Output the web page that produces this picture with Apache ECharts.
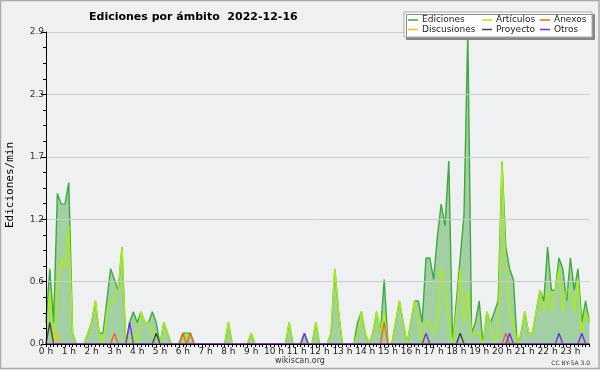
<!DOCTYPE html>
<html>
<head>
<meta charset="utf-8">
<script src="https://cdn.jsdelivr.net/npm/echarts@6/dist/echarts.min.js"></script>
<style>
html,body{margin:0;padding:0;background:#f0f0f0;}
#c{width:600px;height:370px;}
</style>
</head>
<body>
<div id="c"></div>
<script>
// 10-minute slots, 144 per day (index 0 = 0:00)
var hourLabels = ['0 h','1 h','2 h','3 h','4 h','5 h','6 h','7 h','8 h','9 h','10 h','11 h','12 h','13 h','14 h','15 h','16 h','17 h','18 h','19 h','20 h','21 h','22 h','23 h'];
var yTicks = [0, 0.58, 1.16, 1.74, 2.32, 2.9];

var ediciones = [
0.2,0.7,0.2,1.4,1.3,1.3,1.5,0.1,0,0,0,0.1,0.2,0.4,0.1,0.1,0.4,0.7,0.6,0.5,0.9,0,0.2,0.3,
0.2,0.3,0.2,0.2,0.3,0.2,0,0.2,0.1,0,0,0,0.1,0.1,0.1,0,0,0,0,0,0,0,0,0,
0.2,0,0,0,0,0,0.1,0,0,0,0,0,0,0,0,0,0.2,0,0,0,0.1,0,0,0.2,
0,0,0,0.1,0.7,0.3,0,0,0,0,0.2,0.3,0.1,0,0.1,0.3,0.1,0.6,0,0,0.2,0.4,0.2,0,
0.2,0.4,0.4,0.2,0.8,0.8,0.6,1.0,1.3,1.1,1.7,0,0.4,0.8,1.2,2.9,0.1,0.2,0.4,0,
0.3,0.2,0.3,0.4,1.7,0.9,0.7,0.6,0,0.1,0.3,0.1,0.1,0.3,0.5,0.4,0.9,0.5,0.5,0.8,
0.7,0.4,0.8,0.5,0.7,0.2,0.4,0.2
];
var articulos = [
0,0.5,0,0.5,0.8,0.7,1.1,0.1,0,0,0,0.1,0.2,0.4,0.1,0,0.3,0.4,0.4,0.5,0.9,0,0,0.1,
0,0.3,0.2,0.2,0.1,0.1,0,0.2,0.1,0,0,0,0,0.1,0,0,0,0,0,0,0,0,0,0,
0.2,0,0,0,0,0,0.1,0,0,0,0,0,0,0,0,0,0.2,0,0,0,0,0,0,0.2,
0,0,0,0.1,0.7,0.3,0,0,0,0,0.1,0.3,0.1,0,0.1,0.3,0.1,0.3,0,0,0.2,0.4,0.2,0,
0.2,0.4,0.2,0,0.2,0.2,0.1,0.2,0.7,0.5,0.2,0,0.3,0.7,0.2,0.5,0.1,0.1,0.1,0,
0.3,0.2,0,0.1,1.7,0.7,0.3,0.2,0,0.1,0.3,0.1,0.1,0.3,0.5,0.3,0.5,0.3,0.5,0.7,
0.3,0.5,0.5,0.3,0.6,0.1,0.3,0.2
];
var anexos = new Array(144).fill(0);
anexos[18]=0.1; anexos[36]=0.1; anexos[38]=0.1; anexos[89]=0.2; anexos[121]=0.1;
var discusiones = new Array(144).fill(0);
discusiones[3]=0.1;
var proyecto = new Array(144).fill(0);
proyecto[1]=0.2; proyecto[29]=0.1; proyecto[109]=0.1;
var otros = new Array(144).fill(0);
otros[22]=0.2; otros[68]=0.1; otros[100]=0.1; otros[122]=0.1; otros[135]=0.1; otros[141]=0.1;

var names = ['Ediciones','Artículos','Anexos','Discusiones','Proyecto','Otros'];
var colors = ['#3daa3d','#aaee11','#ee6622','#f2c320','#444444','#7a30e0'];
var values = [ediciones, articulos, anexos, discusiones, proyecto, otros];

function pairs(arr){ return arr.map(function(v,i){ return [i,v]; }); }

var series = names.map(function(n,k){
  var s = {
    name: n, type: 'line', data: pairs(values[k]),
    showSymbol: false, symbol: 'none', silent: true,
    color: colors[k],
    lineStyle: {color: colors[k], width: 1.4},
    z: 2 + k,
    animation: false
  };
  if (k === 0) s.areaStyle = {color: '#a3d0a3', opacity: 1};
  return s;
});
var legendPos = [
  {left:408, top:15}, {left:482, top:15}, {left:540, top:15},
  {left:408, top:24.5}, {left:482, top:24.5}, {left:540, top:24.5}
];
var legends = names.map(function(n,k){
  return {
    data:[n], left: legendPos[k].left, top: legendPos[k].top,
    icon:'rect', itemWidth:10, itemHeight:1.5, itemGap:0, padding:0,
    selectedMode:false,
    textStyle:{fontFamily:'DejaVu Sans', fontSize:9, color:'#222', lineHeight:10, padding:[0,0,0,-1]},
    z: 20
  };
});

var chart = echarts.init(document.getElementById('c'), null, {renderer:'canvas'});
chart.setOption({
  animation: false,
  backgroundColor: '#f0f0f0',
  title: {
    text: 'Ediciones por ámbito  2022-12-16',
    left: 84, top: 7,
    textStyle: {fontFamily:'DejaVu Sans', fontSize:11, fontWeight:'bold', color:'#000'}
  },
  legend: legends,
  grid: {left:46, top:32, width:543.4, height:312, show:true, backgroundColor:'#eef0f2', borderWidth:0},
  xAxis: {
    type:'value', min:0, max:143, interval:1, z:10,
    axisLine:{show:true, onZero:false, lineStyle:{color:'#000', width:1}},
    axisTick:{show:true, length:3, lineStyle:{color:'#000'}},
    splitLine:{show:false},
    axisLabel:{
      margin:3, fontFamily:'DejaVu Sans', fontSize:9, color:'#222',
      formatter:function(v){ return (v % 6 === 0) ? hourLabels[v/6] : ''; }
    }
  },
  yAxis: {
    type:'value', min:yTicks[0], max:yTicks[yTicks.length-1], interval:0.58, z:10,
    axisLine:{show:true, lineStyle:{color:'#000', width:1}},
    axisTick:{show:true, length:5, lineStyle:{color:'#000'}},
    minorTick:{show:true, splitNumber:4, length:3, lineStyle:{color:'#000'}},
    splitLine:{show:true, lineStyle:{color:'#cccccc', width:1}},
    axisLabel:{
      margin:2, fontFamily:'DejaVu Sans', fontSize:9, color:'#333',
      formatter:function(v){ return v.toFixed(1); }
    }
  },
  series: series,
  graphic: [
    {type:'rect', silent:true, z:-1, shape:{x:0.5, y:0.5, width:598.5, height:368}, style:{fill:'none', stroke:'#aaaaaa', lineWidth:1.5}},
    {type:'rect', z:15, shape:{x:404, y:12, width:188, height:25},
      style:{fill:'#ffffff', stroke:'#aaaaaa', lineWidth:1, shadowColor:'#888888', shadowOffsetX:2.5, shadowOffsetY:2.5, shadowBlur:0}},
    {type:'text', z:15, x:10, y:185, rotation:Math.PI/2,
      style:{text:'Ediciones/min', fontFamily:'DejaVu Sans Mono', fontSize:11, fill:'#000', textAlign:'center', textVerticalAlign:'middle'}},
    {type:'text', z:15, x:300, y:361,
      style:{text:'wikiscan.org', fontFamily:'DejaVu Sans', fontSize:8, fill:'#333', textAlign:'center', textVerticalAlign:'middle'}},
    {type:'text', z:15, x:590, y:363,
      style:{text:'CC BY-SA 3.0', fontFamily:'DejaVu Sans', fontSize:6, fill:'#333', textAlign:'right', textVerticalAlign:'middle'}}
  ]
});
</script>
</body>
</html>
